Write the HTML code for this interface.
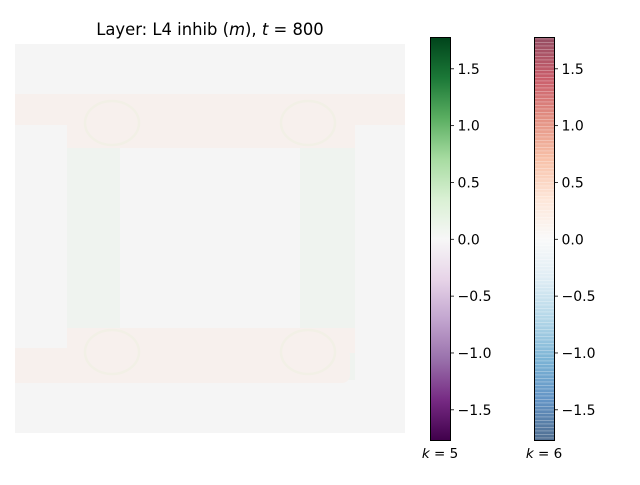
<!DOCTYPE html>
<html><head><meta charset="utf-8"><style>
body{margin:0;background:#fff;}
svg text{font-family:"DejaVu Sans","Liberation Sans",sans-serif;font-size:13.5px;fill:#000}
</style></head><body>
<svg width="640" height="480" viewBox="0 0 640 480">
<defs>
<linearGradient id="prgn" x1="0" y1="1" x2="0" y2="0">
<stop offset="0" stop-color="#40004b"/><stop offset="0.1" stop-color="#762a83"/><stop offset="0.2" stop-color="#9970ab"/><stop offset="0.3" stop-color="#c2a5cf"/><stop offset="0.4" stop-color="#e7d4e8"/><stop offset="0.5" stop-color="#f7f7f7"/><stop offset="0.6" stop-color="#d9f0d3"/><stop offset="0.7" stop-color="#a6dba0"/><stop offset="0.8" stop-color="#5aae61"/><stop offset="0.9" stop-color="#1b7837"/><stop offset="1" stop-color="#00441b"/>
</linearGradient>
<linearGradient id="rdbu" x1="0" y1="1" x2="0" y2="0">
<stop offset="0" stop-color="#053061"/><stop offset="0.1" stop-color="#2166ac"/><stop offset="0.2" stop-color="#4393c3"/><stop offset="0.3" stop-color="#92c5de"/><stop offset="0.4" stop-color="#d1e5f0"/><stop offset="0.5" stop-color="#f7f7f7"/><stop offset="0.6" stop-color="#fddbc7"/><stop offset="0.7" stop-color="#f4a582"/><stop offset="0.8" stop-color="#d6604d"/><stop offset="0.9" stop-color="#b2182b"/><stop offset="1" stop-color="#67001f"/>
</linearGradient>
<pattern id="lines" width="4" height="3.5" patternUnits="userSpaceOnUse"><rect y="0" width="4" height="0.8" fill="#fff" opacity="0.35"/></pattern>
</defs>
<text x="210" y="35" text-anchor="middle" style="font-size:16.4px">Layer: L4 inhib (<tspan font-style="italic">m</tspan>), <tspan font-style="italic">t</tspan> = 800</text>
<g>
<rect x="15" y="44" width="390" height="389" fill="#f5f5f5"/>
<rect x="67" y="125" width="53" height="255" fill="#eff3ef"/>
<rect x="300" y="125" width="55" height="255" fill="#eff3ef"/>
<rect x="15" y="94" width="390" height="31" fill="#f7f0ed"/>
<rect x="67" y="125" width="288" height="23" fill="#f7f0ed"/>
<rect x="15" y="348" width="335" height="35" rx="8" fill="#f7f0ed"/>
<rect x="15" y="348" width="20" height="35" fill="#f7f0ed"/>
<rect x="67" y="328" width="288" height="25" fill="#f7f0ed"/>
<g fill="none" stroke="#f2f0e6" stroke-width="2.5">
<ellipse cx="112" cy="123" rx="27" ry="22"/><ellipse cx="308" cy="123" rx="27" ry="22"/>
<ellipse cx="112" cy="352" rx="27" ry="22"/><ellipse cx="308" cy="352" rx="27" ry="22"/>
</g>
</g>
<g>
<rect x="430.5" y="37.5" width="20" height="403" fill="url(#prgn)" stroke="#000" stroke-width="1"/>
<g id="t1"></g>
<text x="440" y="458" text-anchor="middle" style="font-size:13.5px"><tspan font-style="italic">k</tspan> = 5</text>
</g>
<g>
<rect x="534.5" y="37.5" width="20" height="403" fill="url(#rdbu)" opacity="0.7"/>
<rect x="534.5" y="37.5" width="20" height="403" fill="url(#lines)"/>
<rect x="534.5" y="37.5" width="20" height="403" fill="none" stroke="#000" stroke-width="1"/>
<g id="t2"></g>
<text x="544" y="458" text-anchor="middle" style="font-size:13.5px"><tspan font-style="italic">k</tspan> = 6</text>
</g>
</svg>
<script>
const tickValues=[1.5,1.0,0.5,0.0,-0.5,-1.0,-1.5];
const tickLabels=["1.5","1.0","0.5","0.0","\u22120.5","\u22121.0","\u22121.5"];
function yScale(v){return 239.3-(v/1.5)*170.5;}
const NS="http://www.w3.org/2000/svg";
[["t1",450.5],["t2",554.5]].forEach(([id,x0])=>{
  const g=document.getElementById(id);
  tickValues.forEach((v,i)=>{
    const y=yScale(v);
    const l=document.createElementNS(NS,"line");
    
    
    l.setAttribute("x1",x0);l.setAttribute("x2",x0+3.5);l.setAttribute("y1",y);l.setAttribute("y2",y);
    l.setAttribute("stroke","#000");l.setAttribute("stroke-width","0.8");
    g.appendChild(l);
    const t=document.createElementNS(NS,"text");
    
    
    t.setAttribute("x",x0+7);t.setAttribute("y",y+5);
    t.setAttribute("style","font-size:14px");
    t.textContent=tickLabels[i];
    g.appendChild(t);
  });
});
</script>
</body></html>
